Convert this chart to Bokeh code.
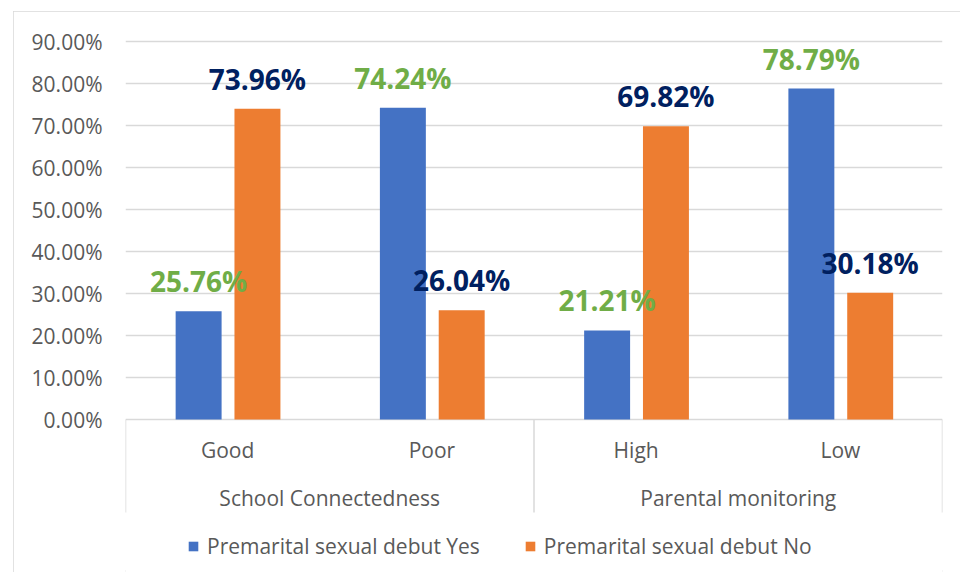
from bokeh.plotting import figure
from bokeh.models import (FactorRange, Range1d, FixedTicker, NumeralTickFormatter,
                          ColumnDataSource, Legend, LegendItem)
from bokeh.transform import dodge
from bokeh.core.properties import value
from bokeh.embed import file_html
from bokeh.resources import INLINE

# ---- data ----
groups = ["School Connectedness", "School Connectedness", "Parental monitoring", "Parental monitoring"]
levels = ["Good", "Poor", "High", "Low"]
yes_vals = [0.2576, 0.7424, 0.2121, 0.7879]
no_vals = [0.7396, 0.2604, 0.6982, 0.3018]
y_ticks = [0.0, 0.1, 0.2, 0.3, 0.4, 0.5, 0.6, 0.7, 0.8, 0.9]
series_names = ["Premarital sexual debut Yes", "Premarital sexual debut No"]

FONT = "Open Sans"
GRID = "#D9D9D9"
TXT = "#595959"
BLUE = "#4472C4"
ORANGE = "#ED7D31"
GREEN = "#70AD47"
NAVY = "#002060"

factors = list(zip(groups, levels))
group_names = list(dict.fromkeys(groups))

# pixel layout
W, H = 947, 561
top_px = 21              # frame top from figure top
zero_px = 408            # y of 0% from figure top
px_per_unit = 420.0
y_end = (zero_px - top_px) / px_per_unit
y_start = -(H - zero_px) / px_per_unit

p = figure(x_range=FactorRange(*factors, range_padding=0, group_padding=0, factor_padding=0),
           y_range=Range1d(y_start, y_end),
           width=W, height=H, output_backend="svg", toolbar_location=None,
           min_border_left=112, min_border_right=18, min_border_top=top_px, min_border_bottom=0)
p.styles = {"margin-left": "13px", "margin-top": "11px",
            "outline": "2px solid #D9D9D9", "outline-offset": "-2px"}

p.xaxis.visible = False
p.xgrid.visible = False
p.outline_line_color = None
p.ygrid.grid_line_color = GRID
p.ygrid.grid_line_width = 1.5

ax = p.yaxis[0]
ax.ticker = FixedTicker(ticks=y_ticks)
ax.formatter = NumeralTickFormatter(format="0.00%")
ax.axis_line_color = None
ax.major_tick_line_color = None
ax.minor_tick_line_color = None
ax.major_label_standoff = 17
ax.major_label_text_font = FONT
ax.major_label_text_font_size = "21px"
ax.major_label_text_color = TXT

src = ColumnDataSource(dict(
    x=factors, yes=yes_vals, no=no_vals,
    yes_t=["%.2f%%" % (v * 100) for v in yes_vals],
    no_t=["%.2f%%" % (v * 100) for v in no_vals],
))

bw = 0.225
r_yes = p.vbar(x=dodge("x", -0.142, range=p.x_range), top="yes", width=bw, source=src,
               fill_color=BLUE, line_color=None)
r_no = p.vbar(x=dodge("x", 0.146, range=p.x_range), top="no", width=bw, source=src,
              fill_color=ORANGE, line_color=None)

p.text(x=dodge("x", -0.142, range=p.x_range), y="yes", text="yes_t", source=src,
       y_offset=-30, text_align="center", text_baseline="middle",
       text_font=value(FONT), text_font_style="bold", text_font_size="28px", text_color=GREEN)
p.text(x=dodge("x", 0.146, range=p.x_range), y="no", text="no_t", source=src,
       y_offset=-30, text_align="center", text_baseline="middle",
       text_font=value(FONT), text_font_style="bold", text_font_size="28px", text_color=NAVY)

# category axis (two levels) drawn below zero line
p.text(x=factors, y=[0] * len(factors), text=levels, y_offset=30,
       text_align="center", text_baseline="middle",
       text_font=value(FONT), text_font_size="21px", text_color=TXT)
p.text(x=group_names, y=[0] * len(group_names), text=group_names, y_offset=78,
       text_align="center", text_baseline="middle",
       text_font=value(FONT), text_font_size="21px", text_color=TXT)

# group boundary lines
bounds = [0]
for g in group_names:
    bounds.append(bounds[-1] + groups.count(g))
p.segment(x0=bounds, x1=bounds, y0=[0] * len(bounds), y1=[-93 / px_per_unit] * len(bounds),
          line_color=GRID, line_width=1.5)

legend = Legend(items=[LegendItem(label=series_names[0], renderers=[r_yes]),
                       LegendItem(label=series_names[1], renderers=[r_no])],
                orientation="horizontal", location=(62, 12),
                label_text_font=FONT, label_text_font_size="21px", label_text_color=TXT,
                glyph_width=12, glyph_height=12, label_standoff=8, spacing=44,
                padding=0, margin=0, border_line_color=None, background_fill_alpha=0)
p.add_layout(legend)

open("out.html", "w").write(file_html(p, INLINE))
